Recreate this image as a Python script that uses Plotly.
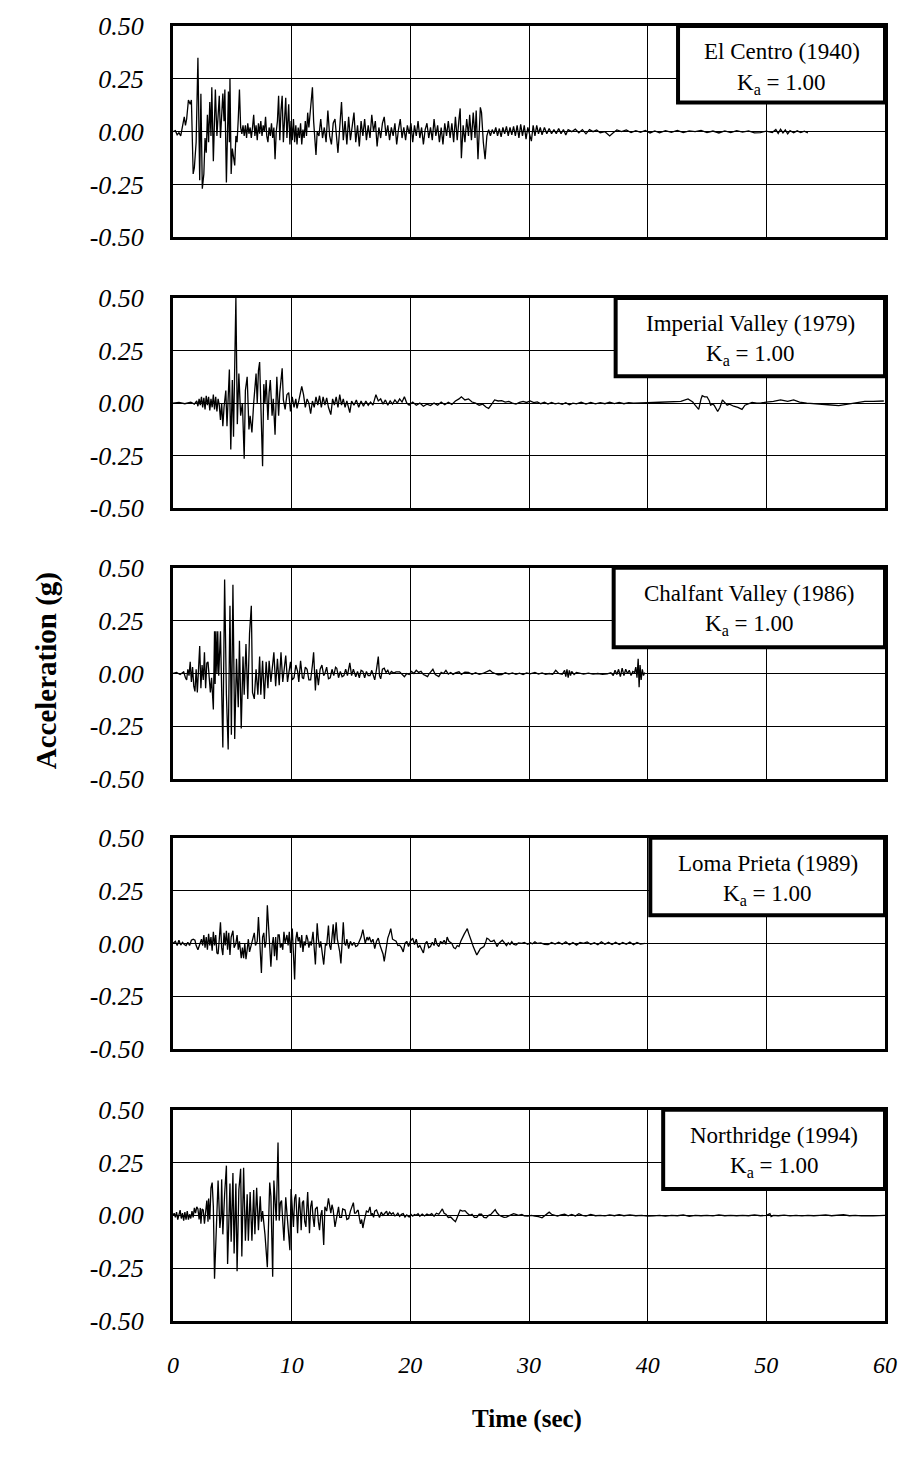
import plotly.graph_objects as go

# ---------------- data (time in s, acceleration in g) ----------------
EL_CENTRO = [
(0,0),(0.2,0.005),(0.35,-0.015),(0.5,-0.005),(0.65,-0.02),(0.8,0.02),(0.95,0.07),(1.05,0.03),(1.15,0.06),(1.3,0.15),
(1.45,0.13),(1.55,0.15),(1.7,-0.2),(1.8,-0.17),(1.95,-0.05),(2.1,0.35),(2.25,-0.23),(2.35,0.18),(2.47,-0.27),(2.6,-0.2),
(2.7,-0.03),(2.8,-0.1),(2.9,0.08),(3.0,-0.05),(3.1,0.14),(3.2,-0.02),(3.27,0.21),(3.4,-0.14),(3.5,0.05),(3.57,0.2),
(3.7,-0.02),(3.8,0.1),(3.9,0.17),(4.0,-0.03),(4.1,0.1),(4.2,0.18),(4.3,0.05),(4.37,0.2),(4.5,-0.24),(4.6,0.05),
(4.67,0.19),(4.75,-0.05),(4.8,0.25),(4.9,-0.2),(5.0,-0.08),(5.1,-0.12),(5.2,-0.16),(5.3,-0.02),(5.4,-0.05),(5.5,0.06),
(5.6,0.2),(5.7,0.02),(5.8,-0.01),(5.9,0.03),(6.0,-0.02),(6.1,0.03),(6.2,-0.03),(6.3,0.04),(6.4,-0.01),(6.5,0.02),
(6.6,-0.03),(6.7,0.02),(6.8,0.08),(6.9,-0.02),(7.0,0.03),(7.1,-0.04),(7.2,0.04),(7.3,-0.01),(7.4,0.05),(7.5,-0.02),
(7.6,0.03),(7.7,0.0),(7.8,0.07),(7.9,-0.02),(8.0,-0.05),(8.1,0.02),(8.2,-0.02),(8.3,0.04),(8.4,-0.03),(8.5,0.02),
(8.6,-0.13),(8.7,0.0),(8.8,0.05),(8.9,0.17),(9.0,-0.04),(9.1,0.1),(9.2,0.17),(9.3,-0.05),(9.4,0.08),(9.5,0.16),
(9.6,-0.03),(9.7,0.05),(9.75,0.13),(9.85,-0.06),(9.95,0.05),(10.05,-0.04),(10.15,0.06),(10.25,-0.05),(10.35,0.03),(10.45,-0.06),
(10.55,0.02),(10.65,-0.03),(10.75,0.04),(10.85,-0.06),(10.95,0.01),(11.05,-0.03),(11.15,0.05),(11.25,-0.02),(11.35,0.09),(11.45,0.02),
(11.6,0.14),(11.75,0.21),(11.85,0.05),(11.95,-0.04),(12.05,-0.11),(12.15,0.0),(12.3,-0.02),(12.45,0.06),(12.6,-0.03),(12.75,0.02),
(12.9,-0.05),(13.05,0.1),(13.2,-0.02),(13.35,-0.06),(13.5,0.04),(13.65,0.06),(13.8,-0.03),(13.9,-0.1),(14.05,0.02),(14.2,0.14),
(14.35,-0.04),(14.5,0.05),(14.65,-0.06),(14.8,0.07),(14.95,-0.04),(15.1,0.04),(15.25,0.09),(15.4,-0.05),(15.55,0.03),(15.7,-0.07),
(15.85,0.05),(16.0,-0.02),(16.15,0.06),(16.3,-0.04),(16.45,0.03),(16.6,-0.03),(16.75,0.08),(16.9,0.0),(17.05,0.05),(17.2,-0.07),
(17.35,0.02),(17.5,-0.03),(17.65,0.04),(17.8,0.07),(17.95,-0.02),(18.1,0.03),(18.25,-0.04),(18.4,0.02),(18.55,-0.02),(18.7,0.04),
(18.85,-0.06),(19.0,0.01),(19.15,0.06),(19.3,-0.03),(19.45,0.02),(19.6,-0.04),(19.75,0.03),(19.9,-0.01),(20.05,0.04),(20.2,-0.05),
(20.35,0.03),(20.5,-0.02),(20.65,0.05),(20.8,-0.03),(20.95,0.02),(21.1,-0.06),(21.25,0.01),(21.4,0.04),(21.55,-0.03),(21.7,0.02),
(21.85,-0.04),(22.0,0.06),(22.15,-0.02),(22.3,0.03),(22.45,-0.05),(22.6,0.02),(22.75,-0.06),(22.9,0.04),(23.05,-0.02),(23.2,0.05),
(23.35,-0.03),(23.5,0.04),(23.65,-0.05),(23.8,0.07),(23.95,-0.04),(24.1,0.06),(24.2,0.11),(24.3,-0.125),(24.45,0.03),(24.6,-0.05),
(24.75,0.06),(24.9,-0.02),(25.0,0.08),(25.15,-0.04),(25.3,0.09),(25.45,-0.03),(25.55,0.1),(25.7,-0.13),(25.8,0.02),(25.9,0.115),
(26.0,0.09),(26.15,-0.05),(26.3,-0.13),(26.45,-0.02),(26.6,0.01),(26.75,-0.02),(26.9,0.01),(27.05,-0.01),(27.2,0.02),(27.35,-0.02),
(27.5,0.015),(27.65,-0.025),(27.8,0.02),(27.95,-0.01),(28.1,0.025),(28.25,-0.02),(28.4,0.02),(28.55,-0.015),(28.7,0.025),(28.85,-0.02),
(29.0,0.03),(29.15,-0.03),(29.3,0.035),(29.45,-0.02),(29.6,0.03),(29.75,-0.035),(29.9,0.02),(30.05,-0.02),(30.2,-0.045),(30.35,0.03),
(30.5,-0.02),(30.65,0.03),(30.8,-0.01),(30.95,0.02),(31.1,-0.015),(31.3,0.02),(31.5,-0.01),(31.7,0.015),(31.9,-0.01),(32.1,0.01),
(32.3,-0.01),(32.5,0.015),(32.7,-0.01),(32.9,0.01),(33.1,-0.015),(33.3,0.01),(33.6,0.0),(33.9,0.012),(34.2,-0.005),(34.5,0.01),
(34.8,-0.01),(35.1,0.01),(35.4,0.0),(35.7,0.008),(36.0,-0.005),(36.4,0.0),(36.8,-0.02),(37.1,-0.005),(37.4,0.008),(37.8,0.0),
(38.2,0.008),(38.6,-0.004),(39.0,0.005),(39.4,-0.003),(39.8,0.006),(40.2,-0.006),(40.6,0.004),(41.0,-0.005),(41.5,0.005),(42.0,-0.003),
(42.5,0.006),(43.0,-0.004),(43.5,0.004),(44.0,0.0),(44.5,0.006),(45.0,-0.004),(45.5,0.003),(46.0,-0.006),(46.5,0.004),(47.0,-0.004),
(47.5,0.005),(48.0,-0.002),(48.5,0.004),(49.0,-0.006),(49.5,-0.004),(50.0,0.003),(50.5,-0.004),(50.8,0.01),(51.0,-0.008),(51.2,0.012),
(51.4,-0.006),(51.6,0.008),(51.8,-0.01),(52.0,0.005),(52.3,-0.005),(52.6,0.004),(52.9,-0.004),(53.2,0.002),(53.5,-0.006),
]

IMPERIAL_VALLEY = [
(0,0),(0.5,0.003),(1.0,-0.003),(1.5,0.004),(1.8,-0.005),(2.0,0.01),(2.1,-0.015),(2.2,0.02),(2.3,-0.01),(2.4,0.03),
(2.5,-0.02),(2.6,0.025),(2.7,-0.03),(2.8,0.035),(2.9,-0.01),(3.0,0.03),(3.1,-0.035),(3.2,0.02),(3.3,-0.02),(3.4,0.04),
(3.5,-0.03),(3.6,0.03),(3.7,-0.04),(3.8,0.02),(3.9,-0.01),(4.0,-0.08),(4.1,0.0),(4.2,-0.11),(4.3,-0.02),(4.45,0.06),
(4.55,-0.11),(4.65,0.02),(4.75,0.16),(4.87,-0.22),(5.0,0.11),(5.1,-0.16),(5.3,0.5),(5.42,-0.1),(5.55,0.14),(5.7,-0.06),
(5.85,0.0),(6.0,-0.265),(6.1,0.06),(6.25,0.125),(6.4,-0.125),(6.5,-0.06),(6.65,-0.14),(6.8,0.0),(6.9,0.06),(7.0,0.14),
(7.1,0.0),(7.2,0.155),(7.3,0.195),(7.42,-0.12),(7.55,-0.3),(7.65,0.09),(7.75,0.0),(7.85,0.11),(8.0,-0.08),(8.1,0.05),
(8.2,0.11),(8.35,-0.06),(8.45,0.02),(8.6,-0.15),(8.75,0.125),(8.9,-0.06),(9.0,0.05),(9.2,0.165),(9.3,0.015),(9.45,-0.03),
(9.6,0.04),(9.75,0.05),(9.9,-0.04),(10.05,0.03),(10.2,-0.02),(10.35,0.02),(10.45,-0.025),(10.6,0.01),(10.75,0.06),(10.85,0.08),
(11.0,0.04),(11.15,-0.02),(11.3,0.02),(11.45,0.0),(11.6,-0.05),(11.75,0.01),(11.9,-0.02),(12.05,0.03),(12.2,-0.01),(12.35,0.035),
(12.5,-0.02),(12.65,0.03),(12.8,-0.01),(12.95,0.025),(13.1,-0.02),(13.3,-0.055),(13.45,0.02),(13.6,-0.01),(13.75,0.03),(13.9,-0.02),
(14.05,0.04),(14.2,-0.01),(14.35,0.02),(14.5,-0.02),(14.65,0.01),(14.9,-0.045),(15.05,0.01),(15.25,-0.01),(15.45,0.015),(15.65,-0.02),
(15.85,0.01),(16.05,-0.015),(16.25,0.01),(16.45,-0.01),(16.65,0.005),(16.85,-0.01),(17.1,0.04),(17.3,0.01),(17.5,0.02),(17.7,-0.005),
(17.9,0.015),(18.1,-0.01),(18.3,0.01),(18.5,-0.005),(18.7,0.015),(18.9,0.0),(19.1,0.02),(19.3,0.005),(19.5,0.03),(19.7,0.0),
(19.9,-0.01),(20.2,0.005),(20.5,-0.01),(20.8,0.0),(21.1,-0.015),(21.4,-0.005),(21.7,-0.012),(22.0,0.0),(22.3,-0.01),(22.6,0.005),
(22.9,-0.008),(23.2,0.004),(23.5,-0.006),(23.8,0.01),(24.1,0.02),(24.3,0.03),(24.6,0.015),(24.9,0.02),(25.2,0.005),(25.5,0.0),
(25.8,-0.01),(26.1,-0.005),(26.4,-0.02),(26.6,-0.025),(26.8,-0.01),(27.1,0.015),(27.4,0.01),(27.7,0.012),(28.0,0.005),(28.3,0.008),
(28.6,0.0),(28.9,-0.005),(29.2,0.003),(29.5,0.008),(29.8,0.003),(30.1,0.01),(30.4,0.002),(30.7,0.006),(31.0,-0.003),(31.3,0.004),
(31.6,-0.005),(31.9,0.003),(32.2,-0.004),(32.5,0.0),(32.8,-0.006),(33.1,0.002),(33.4,-0.008),(33.7,0.0),(34.0,-0.004),(34.4,0.004),
(34.8,-0.005),(35.2,0.003),(35.6,-0.004),(36.0,0.002),(36.4,-0.003),(36.8,0.004),(37.2,-0.002),(37.6,0.003),(38.0,-0.003),(38.4,0.002),
(38.8,0.0),(39.3,0.0),(40.0,0.002),(41.0,0.004),(42.0,0.006),(42.8,0.008),(43.4,0.02),(43.8,0.005),(44.0,-0.01),(44.3,-0.03),
(44.5,0.02),(44.6,0.035),(44.8,0.03),(45.0,0.03),(45.2,0.01),(45.3,-0.01),(45.5,-0.005),(45.6,-0.01),(45.9,-0.04),(46.1,-0.02),
(46.3,0.015),(46.5,0.0),(46.7,-0.01),(46.9,-0.005),(47.25,-0.015),(47.6,-0.02),(47.95,-0.03),(48.2,-0.01),(48.4,-0.005),(48.8,0.003),
(49.2,0.0),(49.5,0.0),(50.0,0.005),(50.6,0.008),(51.2,0.015),(51.8,0.008),(52.3,0.015),(52.8,0.005),(53.4,0.0),(53.9,-0.003),
(54.5,-0.004),(55.2,-0.008),(56.1,-0.012),(56.8,-0.006),(57.5,0.0),(58.3,0.008),(59.0,0.008),(59.9,0.01),
]

CHALFANT_VALLEY = [
(0,0),(0.3,0.005),(0.6,-0.005),(0.9,0.008),(1.05,-0.02),(1.15,-0.03),(1.25,0.02),(1.35,-0.01),(1.45,0.055),(1.55,-0.04),
(1.65,0.03),(1.75,-0.06),(1.85,-0.085),(1.95,0.02),(2.05,-0.09),(2.15,0.05),(2.25,0.13),(2.35,-0.07),(2.45,0.04),(2.55,-0.03),
(2.65,0.1),(2.75,-0.07),(2.85,0.05),(2.95,0.055),(3.05,-0.04),(3.15,-0.09),(3.25,-0.02),(3.4,-0.17),(3.5,0.2),(3.55,-0.05),
(3.62,0.2),(3.7,0.0),(3.77,0.2),(3.85,-0.01),(4.0,0.2),(4.1,-0.1),(4.2,-0.35),(4.35,0.445),(4.5,-0.1),(4.65,-0.36),
(4.8,0.32),(4.92,-0.29),(5.05,0.42),(5.2,-0.31),(5.35,0.07),(5.5,-0.16),(5.6,0.155),(5.75,-0.26),(5.9,0.08),(6.0,-0.1),
(6.15,0.14),(6.3,-0.12),(6.45,0.19),(6.6,0.32),(6.7,-0.09),(6.85,-0.12),(7.0,0.02),(7.15,-0.1),(7.3,0.08),(7.4,-0.1),
(7.55,0.06),(7.7,-0.12),(7.85,0.055),(8.0,-0.07),(8.1,0.06),(8.25,-0.04),(8.4,0.055),(8.5,0.1),(8.65,-0.06),(8.8,0.07),
(8.95,-0.055),(9.1,0.1),(9.25,-0.04),(9.4,0.03),(9.5,0.085),(9.65,-0.04),(9.8,0.02),(9.9,0.055),(10.05,-0.03),(10.2,-0.02),
(10.35,0.04),(10.5,0.01),(10.6,-0.04),(10.75,0.06),(10.9,-0.02),(11.0,-0.025),(11.15,0.03),(11.3,0.02),(11.45,-0.03),(11.6,-0.03),
(11.75,0.04),(11.85,0.1),(12.0,-0.08),(12.1,0.02),(12.25,-0.055),(12.4,0.02),(12.55,0.04),(12.7,-0.01),(12.8,0.0),(12.95,0.03),
(13.1,-0.025),(13.25,-0.02),(13.4,0.02),(13.55,-0.01),(13.7,0.03),(13.8,0.025),(13.95,-0.02),(14.1,0.01),(14.25,-0.015),(14.4,-0.01),
(14.55,0.02),(14.7,-0.01),(14.9,0.05),(15.05,-0.01),(15.2,0.02),(15.4,-0.015),(15.55,0.01),(15.7,-0.02),(15.85,0.015),(16.0,0.01),
(16.15,-0.02),(16.3,0.01),(16.45,-0.01),(16.6,-0.01),(16.75,0.015),(16.9,-0.02),(17.0,-0.03),(17.15,0.02),(17.3,0.08),(17.4,-0.01),
(17.5,-0.025),(17.65,0.02),(17.8,0.025),(17.95,0.005),(18.1,0.015),(18.25,-0.005),(18.4,0.01),(18.6,0.002),(18.8,0.008),(19.1,0.008),
(19.3,-0.005),(19.5,-0.015),(19.7,0.0),(19.9,-0.005),(20.1,0.01),(20.3,0.0),(20.5,0.015),(20.7,0.005),(20.9,0.01),(21.1,-0.005),
(21.3,-0.01),(21.45,-0.015),(21.6,0.0),(21.75,0.01),(21.9,0.02),(22.1,-0.005),(22.25,-0.01),(22.4,-0.015),(22.6,0.005),(22.8,0.0),
(23.0,0.015),(23.2,-0.003),(23.4,0.005),(23.6,-0.004),(23.8,0.003),(24.1,0.008),(24.3,-0.004),(24.6,0.006),(24.9,0.005),(25.2,-0.004),
(25.5,0.004),(25.8,-0.004),(26.1,0.0),(26.4,0.006),(26.7,0.015),(26.9,0.006),(27.2,0.0),(27.4,-0.006),(27.7,-0.005),(28.0,0.004),
(28.3,-0.003),(28.6,0.003),(28.9,-0.004),(29.2,0.002),(29.5,-0.005),(29.8,0.003),(30.1,-0.002),(30.5,0.005),(30.8,-0.003),(31.1,0.003),
(31.4,-0.004),(31.7,0.0),(32.0,-0.004),(32.25,0.015),(32.5,0.0),(32.8,-0.004),(33.0,0.015),(33.1,-0.015),(33.2,0.02),(33.3,-0.02),
(33.4,0.015),(33.5,-0.01),(33.6,0.01),(33.8,-0.005),(34.0,0.005),(34.3,0.0),(34.6,-0.003),(35.0,0.002),(35.4,-0.003),(35.8,0.0),
(36.2,-0.004),(36.6,-0.002),(36.9,0.004),(37.1,-0.01),(37.25,0.015),(37.4,-0.005),(37.55,0.02),(37.7,-0.015),(37.85,0.025),(38.0,-0.01),
(38.15,0.02),(38.3,0.0),(38.45,0.015),(38.6,-0.01),(38.75,0.01),(38.9,0.005),(39.0,0.03),(39.1,-0.02),(39.2,0.07),(39.28,-0.065),
(39.36,0.04),(39.45,-0.03),(39.55,0.02),(39.65,-0.01),(39.75,0.005),
]

LOMA_PRIETA = [
(0,0),(0.2,0.01),(0.35,-0.01),(0.5,0.015),(0.65,-0.008),(0.8,0.005),(0.95,-0.005),(1.1,-0.01),(1.25,0.005),(1.4,-0.01),
(1.55,0.015),(1.7,0.02),(1.85,0.015),(1.95,-0.01),(2.1,-0.03),(2.25,0.0),(2.4,0.02),(2.5,-0.01),(2.6,0.04),(2.7,-0.02),
(2.8,0.03),(2.9,-0.03),(3.0,0.045),(3.1,-0.01),(3.2,0.03),(3.3,-0.035),(3.4,0.055),(3.5,-0.01),(3.6,0.04),(3.7,-0.045),
(3.8,-0.05),(3.9,0.02),(4.0,0.1),(4.1,-0.02),(4.2,-0.055),(4.3,0.05),(4.4,-0.01),(4.5,0.06),(4.6,-0.03),(4.7,0.05),
(4.8,-0.055),(4.9,0.03),(5.05,0.06),(5.15,-0.02),(5.3,0.0),(5.4,0.04),(5.5,-0.03),(5.6,0.01),(5.75,-0.07),(5.85,-0.02),
(5.95,-0.07),(6.05,0.0),(6.15,-0.075),(6.25,-0.03),(6.35,0.02),(6.45,-0.04),(6.6,0.0),(6.7,0.02),(6.85,0.05),(6.95,-0.01),
(7.1,0.01),(7.2,0.125),(7.3,0.02),(7.35,0.0),(7.45,-0.14),(7.55,0.03),(7.65,0.05),(7.75,-0.02),(7.85,0.01),(7.95,0.18),
(8.05,0.06),(8.15,-0.04),(8.25,-0.11),(8.35,-0.01),(8.45,0.03),(8.55,-0.06),(8.65,0.03),(8.75,-0.08),(8.85,0.04),(8.95,0.04),
(9.05,-0.02),(9.15,0.0),(9.25,-0.03),(9.35,0.055),(9.45,0.0),(9.6,0.04),(9.7,-0.01),(9.8,0.055),(9.9,-0.045),(10.05,0.07),
(10.15,-0.05),(10.25,-0.17),(10.35,0.02),(10.45,0.055),(10.55,0.01),(10.65,0.03),(10.75,-0.02),(10.85,0.04),(10.95,-0.04),(11.05,0.01),
(11.15,-0.01),(11.25,0.04),(11.35,0.02),(11.45,-0.02),(11.55,0.01),(11.65,-0.01),(11.8,0.055),(11.9,-0.03),(12.0,-0.1),(12.1,0.03),
(12.15,0.095),(12.25,0.02),(12.35,-0.02),(12.45,0.01),(12.55,-0.03),(12.7,-0.1),(12.85,0.0),(12.95,-0.01),(13.1,0.085),(13.2,-0.01),
(13.3,-0.03),(13.4,0.04),(13.5,0.09),(13.6,0.0),(13.75,0.1),(13.85,0.02),(13.95,-0.01),(14.05,-0.04),(14.15,-0.095),(14.25,0.02),
(14.35,0.1),(14.45,0.0),(14.55,-0.01),(14.65,0.02),(14.8,-0.025),(14.95,0.01),(15.1,-0.01),(15.25,0.005),(15.4,-0.015),(15.55,-0.01),
(15.7,0.01),(15.85,0.03),(16.0,0.065),(16.1,0.02),(16.2,0.0),(16.35,0.03),(16.45,0.015),(16.55,0.03),(16.7,0.005),(16.85,0.02),
(17.0,-0.025),(17.15,0.01),(17.3,0.025),(17.45,-0.01),(17.6,-0.03),(17.7,-0.05),(17.8,-0.085),(17.95,-0.02),(18.1,0.025),(18.25,0.05),
(18.35,0.07),(18.5,0.02),(18.65,0.015),(18.8,0.01),(18.95,-0.01),(19.1,-0.008),(19.25,-0.02),(19.4,-0.04),(19.55,0.0),(19.7,0.01),
(19.85,-0.015),(20.0,0.01),(20.2,0.025),(20.35,-0.005),(20.5,0.02),(20.65,-0.02),(20.8,-0.01),(20.95,-0.03),(21.1,-0.045),(21.25,0.0),
(21.4,0.01),(21.55,-0.02),(21.7,-0.015),(21.85,0.005),(22.0,-0.01),(22.1,0.025),(22.25,-0.005),(22.4,-0.015),(22.55,0.01),(22.7,0.0),
(22.85,0.015),(23.0,-0.005),(23.1,0.03),(23.25,0.01),(23.4,0.005),(23.5,0.0),(23.65,-0.02),(23.8,-0.025),(23.95,-0.01),(24.1,-0.015),
(24.25,0.01),(24.4,0.03),(24.55,0.045),(24.7,0.06),(24.8,0.07),(24.9,0.05),(25.0,0.03),(25.15,0.01),(25.3,-0.015),(25.45,-0.04),
(25.6,-0.055),(25.75,-0.04),(25.9,-0.025),(26.05,-0.02),(26.2,-0.015),(26.35,0.005),(26.45,0.025),(26.6,0.02),(26.75,0.01),(26.9,0.01),
(27.05,0.015),(27.2,0.0),(27.3,-0.015),(27.45,0.0),(27.6,0.01),(27.75,0.015),(27.9,0.005),(28.1,-0.01),(28.25,0.003),(28.4,-0.005),
(28.55,0.008),(28.7,-0.004),(28.9,-0.008),(29.1,0.002),(29.4,0.0),(29.6,0.005),(29.9,-0.004),(30.1,0.003),(30.3,-0.002),(30.5,0.008),
(30.7,0.0),(31.0,0.002),(31.3,-0.004),(31.6,-0.006),(31.9,0.004),(32.2,-0.003),(32.5,0.006),(32.8,-0.004),(33.1,0.008),(33.4,-0.006),
(33.7,0.004),(34.0,-0.008),(34.3,0.005),(34.6,0.0),(34.9,0.007),(35.2,-0.004),(35.5,0.003),(35.8,-0.006),(36.1,0.008),(36.4,-0.004),
(36.7,0.005),(37.0,-0.005),(37.3,0.006),(37.6,-0.005),(37.9,0.004),(38.2,-0.004),(38.5,0.007),(38.8,-0.006),(39.1,0.004),(39.4,-0.003),
(39.75,0.0),
]

NORTHRIDGE = [
(0,0),(0.1,0.01),(0.2,-0.01),(0.3,0.015),(0.4,-0.02),(0.5,0.01),(0.6,0.025),(0.7,-0.015),(0.8,0.01),(0.9,-0.025),
(1.0,0.015),(1.1,-0.02),(1.2,0.02),(1.3,-0.02),(1.4,0.005),(1.5,-0.015),(1.6,0.02),(1.7,-0.01),(1.8,0.035),(1.9,0.01),
(2.0,0.04),(2.1,0.03),(2.2,-0.02),(2.3,0.035),(2.35,-0.04),(2.45,0.03),(2.55,0.025),(2.65,-0.04),(2.75,0.03),(2.85,0.07),
(2.95,-0.03),(3.0,0.08),(3.1,-0.02),(3.2,0.13),(3.3,0.155),(3.4,0.04),(3.5,-0.3),(3.6,-0.12),(3.65,-0.1),(3.8,0.165),
(3.95,-0.06),(4.05,0.0),(4.1,0.17),(4.2,-0.09),(4.35,0.1),(4.5,0.235),(4.6,-0.23),(4.7,0.0),(4.8,0.15),(4.9,-0.125),
(5.05,0.2),(5.15,-0.18),(5.3,0.15),(5.4,-0.265),(5.55,0.12),(5.7,0.22),(5.8,-0.195),(5.95,0.225),(6.1,-0.12),(6.25,0.1),
(6.35,-0.12),(6.5,0.11),(6.65,-0.12),(6.8,0.12),(6.9,-0.09),(7.05,0.13),(7.2,-0.07),(7.35,0.09),(7.45,-0.03),(7.55,0.02),
(7.75,-0.09),(7.95,-0.245),(8.15,0.155),(8.25,0.09),(8.4,-0.29),(8.5,0.165),(8.6,0.05),(8.7,-0.025),(8.85,0.345),(8.95,-0.025),
(9.05,0.06),(9.15,0.07),(9.25,-0.03),(9.35,-0.12),(9.5,0.085),(9.6,0.02),(9.7,-0.055),(9.85,-0.165),(9.95,0.125),(10.05,0.02),
(10.15,-0.055),(10.25,0.08),(10.35,0.1),(10.45,-0.02),(10.5,-0.085),(10.6,0.05),(10.65,0.085),(10.75,0.0),(10.8,-0.07),(10.9,0.06),
(11.0,0.07),(11.1,-0.03),(11.2,-0.055),(11.3,0.06),(11.35,0.11),(11.45,-0.02),(11.5,-0.085),(11.6,0.04),(11.7,0.07),(11.8,-0.01),
(11.9,-0.055),(12.0,0.03),(12.15,0.04),(12.25,-0.03),(12.35,-0.07),(12.45,0.0),(12.55,0.025),(12.6,-0.03),(12.7,-0.14),(12.8,0.04),
(12.95,0.02),(13.1,0.08),(13.2,0.03),(13.3,0.01),(13.4,0.05),(13.5,0.025),(13.65,-0.055),(13.8,0.0),(13.95,0.04),(14.05,-0.01),
(14.2,-0.01),(14.3,0.03),(14.5,0.025),(14.65,-0.02),(14.8,-0.015),(14.95,0.02),(15.05,0.04),(15.2,0.06),(15.3,0.01),(15.4,0.01),
(15.5,0.02),(15.6,0.025),(15.7,-0.01),(15.8,-0.04),(15.9,-0.02),(16.0,-0.06),(16.1,-0.03),(16.2,0.0),(16.3,0.02),(16.45,0.015),
(16.6,0.04),(16.7,0.0),(16.8,0.01),(16.9,-0.01),(17.0,0.02),(17.15,0.025),(17.3,0.0),(17.4,-0.01),(17.55,0.015),(17.7,0.0),
(17.85,0.01),(18.0,0.02),(18.1,0.0),(18.25,0.015),(18.4,0.005),(18.55,0.012),(18.7,-0.003),(18.8,0.0),(18.95,0.01),(19.1,-0.005),
(19.25,0.005),(19.4,0.008),(19.55,-0.008),(19.7,0.002),(19.9,-0.008),(20.05,0.005),(20.2,-0.004),(20.35,0.004),(20.5,0.0),(20.65,0.008),
(20.8,-0.004),(21.0,0.006),(21.2,-0.003),(21.4,0.006),(21.6,0.0),(21.8,0.008),(22.0,-0.004),(22.2,0.01),(22.4,0.005),(22.7,0.03),
(22.85,0.01),(23.0,0.005),(23.2,-0.01),(23.4,-0.008),(23.6,-0.02),(23.8,-0.03),(23.95,-0.01),(24.1,0.015),(24.2,0.025),(24.4,0.02),
(24.6,0.022),(24.8,0.01),(25.0,0.0),(25.2,0.005),(25.4,-0.01),(25.6,-0.01),(25.8,0.005),(26.0,0.005),(26.2,-0.01),(26.4,-0.012),
(26.6,0.0),(26.8,0.005),(27.0,0.02),(27.15,0.027),(27.3,0.012),(27.5,0.0),(27.7,-0.005),(27.9,-0.01),(28.1,-0.008),(28.3,-0.003),
(28.5,0.0),(28.7,0.008),(28.9,0.004),(29.1,0.0),(29.4,0.004),(29.6,-0.002),(29.9,-0.004),(30.2,0.0),(30.5,-0.004),(30.8,-0.006),
(31.1,-0.012),(31.4,0.003),(31.7,0.015),(31.9,0.005),(32.1,0.0),(32.4,-0.004),(32.7,0.002),(33.0,0.005),(33.3,-0.002),(33.6,0.004),
(33.9,-0.003),(34.2,0.008),(34.5,0.0),(34.8,-0.004),(35.2,0.004),(35.6,-0.002),(36.0,0.0),(36.4,-0.003),(36.8,0.002),(37.2,-0.002),
(37.6,0.003),(38.0,-0.002),(38.5,0.002),(39.0,-0.002),(39.5,0.0),(40.0,-0.004),(40.5,-0.003),(41.0,0.0),(41.5,-0.004),(42.0,0.0),
(42.5,-0.002),(43.0,0.002),(43.5,-0.005),(44.0,0.0),(44.5,-0.002),(45.0,0.0),(45.5,-0.003),(46.0,0.002),(46.5,-0.002),(47.0,0.0),
(47.5,-0.002),(48.0,0.0),(48.5,-0.002),(49.0,0.002),(49.5,-0.002),(50.0,0.0),(50.3,0.008),(50.4,-0.006),(50.6,0.0),(51.0,-0.002),
(51.5,0.001),(52.0,-0.003),(52.5,0.0),(53.0,-0.003),(53.5,0.0),(54.0,-0.002),(54.5,0.0),(55.0,0.002),(55.5,-0.002),(56.0,0.0),
(56.5,0.003),(57.0,-0.002),(57.5,0.0),(58.0,-0.003),(58.5,-0.004),(59.0,-0.003),(59.5,-0.001),(60.0,0.0),
]

RECORDS = [EL_CENTRO, IMPERIAL_VALLEY, CHALFANT_VALLEY, LOMA_PRIETA, NORTHRIDGE]
NAMES = ["El Centro (1940)", "Imperial Valley (1979)", "Chalfant Valley (1986)",
         "Loma Prieta (1989)", "Northridge (1994)"]
KA = ["1.00", "1.00", "1.00", "1.00", "1.00"]
Y_TICKS = [-0.5, -0.25, 0.0, 0.25, 0.5]
Y_TICK_TEXT = ["-0.50", "-0.25", "0.00", "0.25", "0.50"]
X_TICKS = [0, 10, 20, 30, 40, 50, 60]

# ---------------- layout geometry ----------------
W, H = 909, 1464
ML, MR, MT, MB = 173, 17, 16, 142
PH = H - MT - MB
PW = W - ML - MR
PANELS_PX = [(16, 229), (290, 502), (562, 775), (834, 1047), (1108, 1321)]
BOX_LEFT_PX = [683, 620, 618, 655, 668]
BOX_BOTTOM_PX = [93, 369, 642, 912, 1188]
SERIF = "Liberation Serif, Times New Roman, serif"

fig = go.Figure()
layout = dict(
    width=W, height=H, margin=dict(l=ML, r=MR, t=MT, b=MB),
    paper_bgcolor="white", plot_bgcolor="white", showlegend=False,
    shapes=[], annotations=[],
)

for i, (rec, name, ka, (ptop, pbot)) in enumerate(zip(RECORDS, NAMES, KA, PANELS_PX)):
    n = i + 1
    xs = "" if n == 1 else str(n)
    t_vals = [p[0] for p in rec]
    a_vals = [p[1] for p in rec]
    fig.add_trace(go.Scatter(x=t_vals, y=a_vals, mode="lines",
                             line=dict(color="black", width=1.3),
                             xaxis="x" + xs, yaxis="y" + xs, hoverinfo="skip"))
    d0 = (H - MB - pbot) / PH
    d1 = (H - MB - ptop) / PH
    last = (n == len(RECORDS))
    layout["xaxis" + xs] = dict(
        domain=[0, 1], anchor="y" + xs, range=[0, 60], tickvals=X_TICKS,
        ticktext=[str(v) for v in X_TICKS],
        showgrid=True, gridcolor="black", gridwidth=1, zeroline=False,
        showline=True, linecolor="black", linewidth=3, mirror=True,
        ticks="", showticklabels=last, ticklabelstandoff=20,
        tickfont=dict(family=SERIF, size=24, color="black", style="italic"),
        fixedrange=True,
    )
    layout["yaxis" + xs] = dict(
        domain=[d0, d1], anchor="x" + xs, range=[-0.5, 0.5], tickvals=Y_TICKS,
        ticktext=Y_TICK_TEXT, showgrid=True, gridcolor="black", gridwidth=1, zeroline=False,
        showline=True, linecolor="black", linewidth=3, mirror=True,
        ticks="", ticklabelstandoff=21,
        tickfont=dict(family=SERIF, size=26, color="black", style="italic"),
        fixedrange=True,
    )
    ph = pbot - ptop
    bx0 = (BOX_LEFT_PX[i] - ML) / PW
    by0 = (pbot - BOX_BOTTOM_PX[i]) / ph
    layout["shapes"].append(dict(
        type="rect", xref="x" + xs + " domain", yref="y" + xs + " domain",
        x0=bx0, x1=1.0, y0=by0, y1=1.0, fillcolor="white",
        line=dict(color="black", width=4), layer="above"))
    xc = (bx0 + 1.0) / 2
    layout["annotations"].append(dict(
        xref="x" + xs + " domain", yref="y" + xs + " domain",
        x=xc, y=(pbot - (ptop + 26)) / ph, xanchor="center", yanchor="middle",
        text=name, showarrow=False,
        font=dict(family=SERIF, size=23, color="black")))
    layout["annotations"].append(dict(
        xref="x" + xs + " domain", yref="y" + xs + " domain",
        x=xc, y=(pbot - (ptop + 58)) / ph, xanchor="center", yanchor="middle",
        text="K<sub>a</sub> = " + ka, showarrow=False,
        font=dict(family=SERIF, size=23, color="black")))

layout["annotations"].append(dict(
    xref="paper", yref="paper", x=(45 - ML) / PW, y=(H - MB - 666) / PH,
    xanchor="center", yanchor="middle", textangle=-90, showarrow=False,
    text="<b>Acceleration (g)</b>", font=dict(family=SERIF, size=29, color="black")))
layout["annotations"].append(dict(
    xref="paper", yref="paper", x=(530 - ML) / PW, y=(H - MB - 1420) / PH,
    xanchor="center", yanchor="middle", showarrow=False,
    text="<b>Time (sec)</b>", font=dict(family=SERIF, size=25, color="black")))

fig.update_layout(**layout)
fig.write_html("out.html", config={"displayModeBar": False})
